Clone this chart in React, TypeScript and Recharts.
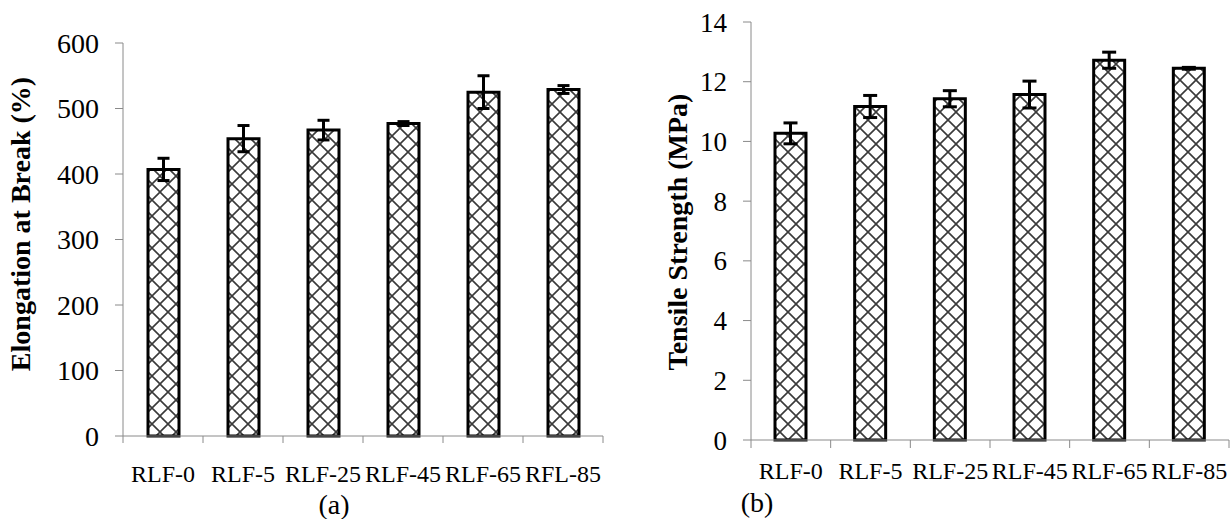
import { BarChart, Bar, XAxis, YAxis, ErrorBar, Label } from "recharts";

const FONT = '"Liberation Serif", "Times New Roman", Times, serif';
const AXIS_GREY = "#8a8a8a";

// (a) elongation at break
const samplesA = ["RLF-0", "RLF-5", "RLF-25", "RLF-45", "RLF-65", "RFL-85"];
const elongation = [407, 454, 467, 477, 525, 529];
const elongationErr = [17, 20, 15, 3, 25, 6];
const elongationTicks = [0, 100, 200, 300, 400, 500, 600];

// (b) tensile strength
const samplesB = ["RLF-0", "RLF-5", "RLF-25", "RLF-45", "RLF-65", "RLF-85"];
const tensile = [10.27, 11.17, 11.43, 11.57, 12.72, 12.45];
const tensileErr = [0.35, 0.37, 0.27, 0.45, 0.27, 0.03];
const tensileTicks = [0, 2, 4, 6, 8, 10, 12, 14];

// category boundaries (excel puts the x ticks between the bars)
const slotTicks = [0, 1, 2, 3, 4, 5, 6];

const dataA = samplesA.map((name, i) => ({ name, pos: i + 0.5, value: elongation[i], err: elongationErr[i] }));
const dataB = samplesB.map((name, i) => ({ name, pos: i + 0.5, value: tensile[i], err: tensileErr[i] }));

const Hatch = ({ id }: { id: string }) => (
  <defs>
    <pattern id={id} patternUnits="userSpaceOnUse" width={16} height={16}>
      <rect width={16} height={16} fill="#fff" />
      <path d="M-4,-4 L20,20 M-4,20 L20,-4" stroke="#3a3a3a" strokeWidth={1.6} />
    </pattern>
  </defs>
);

const slotTick = (labels: string[], half: number) => (props: any) => {
  const name = labels[props.payload.value];
  if (!name) return <g />;
  return (
    <text x={props.x + half} y={props.y} dy="0.71em" textAnchor="middle" fill="#000" fontSize={24} fontFamily={FONT}>
      {name}
    </text>
  );
};

const valueTick = (size: number) => (props: any) => (
  <text x={props.x} y={props.y} dy="0.355em" textAnchor="end" fill="#000" fontSize={size} fontFamily={FONT}>
    {props.payload.value}
  </text>
);

const ElongationChart = () => (
  <BarChart width={620} height={519} data={dataA} margin={{ top: 43, right: 17, bottom: 0, left: 0 }}>
    <Hatch id="hatchA" />
    <XAxis
      dataKey="pos"
      type="number"
      domain={[0, 6]}
      ticks={slotTicks}
      height={83}
      stroke={AXIS_GREY}
      tickSize={7}
      tickMargin={22}
      tick={slotTick(samplesA, 40)}
      interval={0}
    >
      <Label
        content={() => (
          <text x={334} y={514} textAnchor="middle" fontSize={28} fontFamily={FONT} fill="#000">
            (a)
          </text>
        )}
      />
    </XAxis>
    <YAxis
      width={123}
      domain={[0, 600]}
      ticks={elongationTicks}
      stroke={AXIS_GREY}
      tickSize={8}
      tickMargin={16}
      tick={valueTick(28)}
      interval={0}
    >
      <Label
        content={() => (
          <text
            transform="translate(30,224) rotate(-90)"
            textAnchor="middle"
            fontSize={28}
            fontWeight="bold"
            fontFamily={FONT}
            fill="#000"
          >
            Elongation at Break (%)
          </text>
        )}
      />
    </YAxis>
    <Bar dataKey="value" barSize={31} fill="url(#hatchA)" stroke="#000" strokeWidth={3} isAnimationActive={false}>
      <ErrorBar dataKey="err" width={6} stroke="#000" strokeWidth={3} />
    </Bar>
  </BarChart>
);

const TensileChart = () => (
  <BarChart width={611} height={519} data={dataB} margin={{ top: 22, right: 2, bottom: 0, left: 0 }}>
    <Hatch id="hatchB" />
    <XAxis
      dataKey="pos"
      type="number"
      domain={[0, 6]}
      ticks={slotTicks}
      height={79}
      stroke={AXIS_GREY}
      tickSize={8}
      tickMargin={14}
      tick={slotTick(samplesB, 39.8)}
      interval={0}
    >
      <Label
        content={() => (
          <text x={137} y={512} textAnchor="middle" fontSize={28} fontFamily={FONT} fill="#000">
            (b)
          </text>
        )}
      />
    </XAxis>
    <YAxis
      width={131}
      domain={[0, 14]}
      ticks={tensileTicks}
      stroke={AXIS_GREY}
      tickSize={8}
      tickMargin={16}
      tick={valueTick(27)}
      interval={0}
    >
      <Label
        content={() => (
          <text
            transform="translate(67,232) rotate(-90)"
            textAnchor="middle"
            fontSize={28}
            fontWeight="bold"
            fontFamily={FONT}
            fill="#000"
          >
            Tensile Strength (MPa)
          </text>
        )}
      />
    </YAxis>
    <Bar dataKey="value" barSize={31} fill="url(#hatchB)" stroke="#000" strokeWidth={3} isAnimationActive={false}>
      <ErrorBar dataKey="err" width={7} stroke="#000" strokeWidth={3} />
    </Bar>
  </BarChart>
);

export default function App() {
  return (
    <div style={{ position: "absolute", left: 0, top: 0, width: 1231, height: 519, background: "#fff" }}>
      <div style={{ position: "absolute", left: 0, top: 0 }}>
        <ElongationChart />
      </div>
      <div style={{ position: "absolute", left: 620, top: 0 }}>
        <TensileChart />
      </div>
    </div>
  );
}
